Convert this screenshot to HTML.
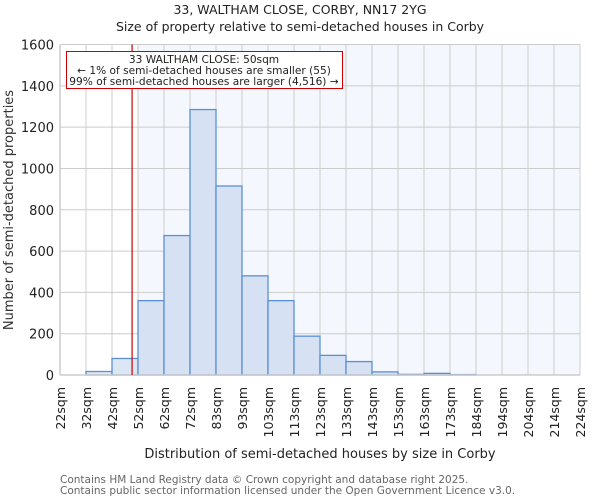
<!DOCTYPE html>
<html><head><meta charset="utf-8"><style>
body{margin:0;background:#fff;font-family:"DejaVu Sans","Liberation Sans",sans-serif}
</style></head><body>
<svg width="600" height="500" font-family="DejaVu Sans, Liberation Sans, sans-serif">
<g id="g"></g>
</svg>
<script>
const edges=["22sqm","32sqm","42sqm","52sqm","62sqm","72sqm","83sqm","93sqm","103sqm","113sqm","123sqm","133sqm","143sqm","153sqm","163sqm","173sqm","184sqm","194sqm","204sqm","214sqm","224sqm"];
const counts=[0,17,80,360,675,1285,915,480,360,188,95,65,15,3,8,2,0,0,0,0];
const yTicks=[0,200,400,600,800,1000,1200,1400,1600];
const marker=50, binStart=22, binWidth=10.1;
const X0=60,X1=580,Y0=375,Y1=44.5,YMAX=1600;
const bw=(X1-X0)/counts.length;
const ys=v=>Y0-(v/YMAX)*(Y0-Y1);
const xi=i=>X0+i*bw;
const g=document.getElementById('g');
const NS="http://www.w3.org/2000/svg";
function mk(t,a,txt){const e=document.createElementNS(NS,t);for(const k in a)e.setAttribute(k,a[k]);if(txt!=null)e.textContent=txt;g.appendChild(e);return e;}
const mx=X0+(marker-binStart)/binWidth*bw;
const shadeStart=xi(Math.ceil((marker-binStart)/binWidth));
let e;
e=mk('rect',{x:shadeStart,y:Y1,width:X1-shadeStart,height:Y0-Y1,fill:'#f4f7fd'});


for(let i=1;i<edges.length;i++){e=mk('line',{x1:xi(i),x2:xi(i),y1:Y1,y2:Y0,stroke:'#cccccc','stroke-width':1});

}
yTicks.forEach(t=>{if(t>0){e=mk('line',{x1:X0,x2:X1,y1:ys(t),y2:ys(t),stroke:'#cccccc','stroke-width':1});

}
e=mk('text',{x:X0-6,y:ys(t)+5,'text-anchor':'end','font-size':13,fill:'#222'},t);

});
counts.forEach((c,i)=>{if(c<=0)return;const inside=xi(i)>=shadeStart;
e=mk('rect',{x:xi(i),y:ys(c),width:bw,height:Y0-ys(c),fill:inside?'#d6e1f3':'#dde6f4',stroke:'#5a8fd6','stroke-width':1.3});

});
e=mk('line',{x1:X0,x2:X1,y1:Y0,y2:Y0,stroke:'#cccccc','stroke-width':1.5});


e=mk('line',{x1:X0,x2:X0,y1:Y1,y2:Y0,stroke:'#cccccc','stroke-width':1.5});


edges.forEach((l,i)=>{e=mk('text',{x:0,y:0,'text-anchor':'end','font-size':12.5,fill:'#222',transform:`translate(${xi(i)+5},${Y0+12}) rotate(-90)`},l);

});
e=mk('line',{x1:mx,x2:mx,y1:Y1,y2:Y0,stroke:'#cc0000','stroke-width':1.2});


e=mk('rect',{x:66.5,y:51.5,width:276,height:37,fill:'#fff',stroke:'#cc0000','stroke-width':1});


[["33 WALTHAM CLOSE: 50sqm",63],["← 1% of semi-detached houses are smaller (55)",74],["99% of semi-detached houses are larger (4,516) →",85]].forEach(a=>{e=mk('text',{x:204,y:a[1],'text-anchor':'middle','font-size':10.6,fill:'#222'},a[0]);

});
e=mk('text',{x:300,y:14,'text-anchor':'middle','font-size':12.5,fill:'#222'},"33, WALTHAM CLOSE, CORBY, NN17 2YG");


e=mk('text',{x:300,y:31,'text-anchor':'middle','font-size':12.5,fill:'#222'},"Size of property relative to semi-detached houses in Corby");


e=mk('text',{x:0,y:0,'text-anchor':'middle','font-size':13,fill:'#333',transform:'translate(13,210) rotate(-90)'},"Number of semi-detached properties");


e=mk('text',{x:320,y:458,'text-anchor':'middle','font-size':13,fill:'#222'},"Distribution of semi-detached houses by size in Corby");


e=mk('text',{x:60,y:483,'font-size':10.5,fill:'#666'},"Contains HM Land Registry data © Crown copyright and database right 2025.");


e=mk('text',{x:60,y:494,'font-size':10.5,fill:'#666'},"Contains public sector information licensed under the Open Government Licence v3.0.");


</script>
</body></html>
